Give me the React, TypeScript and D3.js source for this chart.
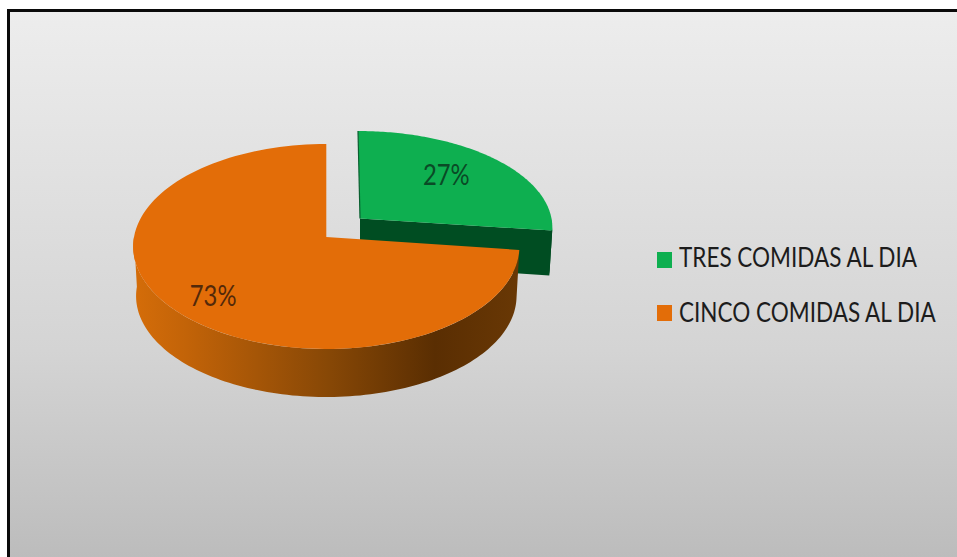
import React from "react";
import * as d3 from "d3";

// Meal-frequency survey shares, in slice order clockwise from twelve o'clock.
const categories = ["TRES COMIDAS AL DIA", "CINCO COMIDAS AL DIA"];
const shares = [27, 73];
const shareLabels = ["27%", "73%"];

const WIDTH = 957;
const HEIGHT = 557;
const FONT = "Lato, Carlito, 'Open Sans', sans-serif";

// Projection of the tilted disc: perspective strength and wall shrink.
const PERSPECTIVE = 0.0927;
const WALL_SHRINK = 0.985;

type Disc = { cx: number; cy: number; rx: number; ry: number; depth: number };

const discs: Disc[] = [
  { cx: 358, cy: 218.5, rx: 193.5, ry: 95.6, depth: 45 },
  { cx: 326.3, cy: 237, rx: 192.3, ry: 101.6, depth: 49.7 },
];

const project = (d: Disc, angle: number, r = 1): [number, number] => {
  const u = Math.sin(angle) * r;
  const v = -Math.cos(angle) * r;
  const w = 1 - PERSPECTIVE * v;
  return [d.cx + (d.rx * u) / w, d.cy + (d.ry * v) / w];
};

const lower = (d: Disc, p: [number, number]): [number, number] => [
  d.cx + (p[0] - d.cx) * WALL_SHRINK,
  d.cy + (p[1] - d.cy) * WALL_SHRINK + d.depth,
];

const arcPoints = (d: Disc, a0: number, a1: number) =>
  d3.range(0, 121).map((i) => project(d, a0 + ((a1 - a0) * i) / 120));

const closed = d3.line().curve(d3.curveLinearClosed);

const slices = d3
  .pie<number>()
  .sort(null)
  .value((v) => v)(shares);

// Narrow the humanist face horizontally so its proportions read as a condensed sans.
const narrowText = (x: number, y: number, sx: number) => `translate(${x},${y}) scale(${sx},1)`;

export default function App() {
  const [green, orange] = slices;
  const [gd, od] = discs;

  const greenArc = arcPoints(gd, green.startAngle, green.endAngle);
  const greenApex: [number, number] = [gd.cx + 2, gd.cy];
  const greenTop = [greenApex, ...greenArc];
  // Cut face running from the apex to the rim, seen from the front.
  const greenEnd = greenArc[greenArc.length - 1];
  const greenWall = [greenApex, greenEnd, lower(gd, greenEnd), lower(gd, greenApex)];
  const greenRimStart = project(gd, Math.PI / 2);
  const greenRim = [greenRimStart, greenEnd, lower(gd, greenEnd), lower(gd, greenRimStart)];

  const orangeArc = arcPoints(od, orange.startAngle, orange.endAngle);
  const orangeApex: [number, number] = [od.cx, od.cy];
  const orangeTop = [orangeApex, ...orangeArc];
  const orangeRimArc = arcPoints(od, orange.startAngle, (Math.PI * 3) / 2);
  const orangeRim = [...orangeRimArc, ...orangeRimArc.slice().reverse().map((p) => lower(od, p))];

  const greenLabel = project(gd, (green.startAngle + green.endAngle) / 2, 0.61);
  const orangeLabel = project(od, (orange.startAngle + orange.endAngle) / 2, 0.78);

  return (
    <svg
      width={WIDTH}
      height={HEIGHT}
      viewBox={`0 0 ${WIDTH} ${HEIGHT}`}
      style={{ position: "fixed", left: 0, top: 0, display: "block" }}
    >
      <defs>
        <linearGradient id="panel" x1="0" y1="0" x2="0" y2="1">
          <stop offset="0" stopColor="#ededed" />
          <stop offset="0.61" stopColor="#d4d4d4" />
          <stop offset="1" stopColor="#bbbbbb" />
        </linearGradient>
        <linearGradient id="orangeRim" gradientUnits="userSpaceOnUse" x1="133" y1="0" x2="520" y2="0">
          <stop offset="0" stopColor="#d56d09" />
          <stop offset="0.14" stopColor="#c26308" />
          <stop offset="0.5" stopColor="#884806" />
          <stop offset="0.78" stopColor="#5a2e02" />
          <stop offset="1" stopColor="#693805" />
        </linearGradient>
      </defs>

      <rect width={WIDTH} height={HEIGHT} fill="#ffffff" />
      <rect x={8.5} y={10.5} width={WIDTH} height={HEIGHT} fill="url(#panel)" stroke="#0a0a0a" strokeWidth={3} />

      <path d={closed(greenRim) ?? ""} fill="#00491f" />
      <path d={closed(greenWall) ?? ""} fill="#004d22" />
      <path d={closed(greenTop) ?? ""} fill="#0eaf50" />
      <line x1={gd.cx} y1={gd.cy - 87.5} x2={greenApex[0]} y2={greenApex[1]} stroke="#0a5f30" strokeWidth={1.2} />

      <path d={closed(orangeRim) ?? ""} fill="url(#orangeRim)" />
      <path d={closed(orangeTop) ?? ""} fill="#e36d08" />

      <text transform={narrowText(greenLabel[0] + 3, greenLabel[1] + 4, 0.85)} textAnchor="middle" fontFamily={FONT} fontSize={28} fill="#0a4a26">
        {shareLabels[0]}
      </text>
      <text transform={narrowText(orangeLabel[0] + 5, orangeLabel[1] + 14, 0.85)} textAnchor="middle" fontFamily={FONT} fontSize={28} fill="#53290a">
        {shareLabels[1]}
      </text>

      {categories.map((name, i) => (
        <g key={name}>
          <rect x={657} y={252 + i * 53} width={15} height={16} fill={i === 0 ? "#0eaf50" : "#e36d08"} />
          <text transform={narrowText(679, 267 + i * 54.5, 0.85)} fontFamily={FONT} fontSize={26.5} fill="#1c1c1c">
            {name}
          </text>
        </g>
      ))}
    </svg>
  );
}
